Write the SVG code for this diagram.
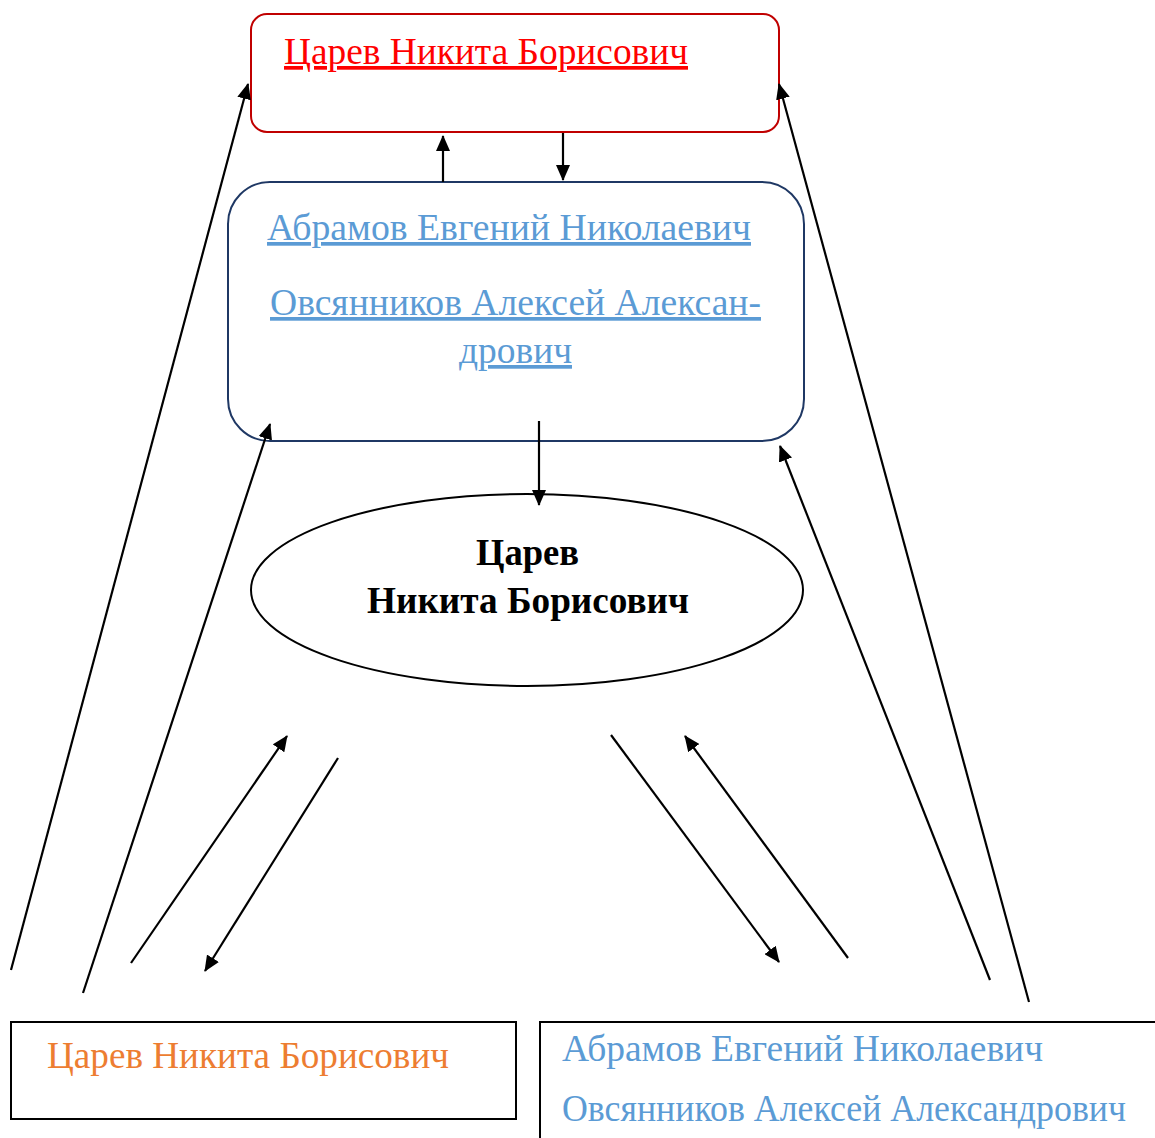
<svg xmlns="http://www.w3.org/2000/svg" width="1155" height="1138" viewBox="0 0 1155 1138">
<style>
text{font-family:"Liberation Serif","Times New Roman",serif;font-size:37px}
.blue{fill:#5b9bd5}
.u{text-decoration:underline}
.p{stroke:#000;stroke-width:2.2;fill:none;marker-end:url(#ahb)}
.b{font-weight:bold;fill:#000}
</style>
<defs>
<marker id="ahb" markerWidth="16" markerHeight="14" refX="15" refY="7" orient="auto" markerUnits="userSpaceOnUse" viewBox="0 0 16 14">
<path d="M0,0 L16,7 L0,14 z" fill="#000"/>
</marker>
</defs>
<rect width="1155" height="1138" fill="#fff"/>
<g id="top">
<rect x="251" y="14" width="528" height="118" rx="16" fill="#fff" stroke="#c00000" stroke-width="2"/>
<text x="284" y="64" fill="#ff0000" class="u" textLength="404" lengthAdjust="spacingAndGlyphs">Царев Никита Борисович</text>
</g>
<g id="middle">
<rect x="228" y="182" width="576" height="259" rx="42" fill="#fff" stroke="#1f3864" stroke-width="2"/>
<text x="267" y="240" class="blue u" textLength="484" lengthAdjust="spacingAndGlyphs">Абрамов Евгений Николаевич</text>
<text x="270" y="315" class="blue u" textLength="491" lengthAdjust="spacingAndGlyphs">Овсянников Алексей Алексан-</text>
<text x="459" y="363" class="blue u" textLength="113" lengthAdjust="spacingAndGlyphs">дрович</text>
</g>
<g id="center">
<ellipse cx="527" cy="590" rx="276" ry="96" fill="#fff" stroke="#000" stroke-width="2"/>
<text x="476" y="565" class="b" textLength="103" lengthAdjust="spacingAndGlyphs">Царев</text>
<text x="367" y="613" class="b" textLength="322" lengthAdjust="spacingAndGlyphs">Никита Борисович</text>
</g>
<g id="bottom-left">
<rect x="11" y="1022" width="505" height="97" fill="#fff" stroke="#000" stroke-width="2"/>
<text x="47" y="1068" fill="#ed7d31" textLength="402" lengthAdjust="spacingAndGlyphs">Царев Никита Борисович</text>
</g>
<g id="bottom-right">
<rect x="540" y="1022" width="630" height="130" fill="#fff" stroke="#000" stroke-width="2"/>
<text x="562" y="1061" class="blue" textLength="481" lengthAdjust="spacingAndGlyphs">Абрамов Евгений Николаевич</text>
<text x="562" y="1121" class="blue" textLength="564" lengthAdjust="spacingAndGlyphs">Овсянников Алексей Александрович</text>
</g>
<g id="connectors">
<line x1="443" y1="182" x2="443" y2="136" class="p"/>
<line x1="563" y1="133" x2="563" y2="180" class="p"/>
<line x1="539" y1="421" x2="539" y2="505" class="p"/>
<line x1="11" y1="970" x2="248" y2="84" class="p"/>
<line x1="83" y1="993" x2="270" y2="424" class="p"/>
<line x1="131" y1="963" x2="287" y2="736" class="p"/>
<line x1="338" y1="758" x2="205" y2="971" class="p"/>
<line x1="611" y1="735" x2="779" y2="962" class="p"/>
<line x1="848" y1="958" x2="685" y2="736" class="p"/>
<line x1="990" y1="980" x2="780" y2="446" class="p"/>
<line x1="1029" y1="1002" x2="779" y2="84" class="p"/>
</g>
</svg>
